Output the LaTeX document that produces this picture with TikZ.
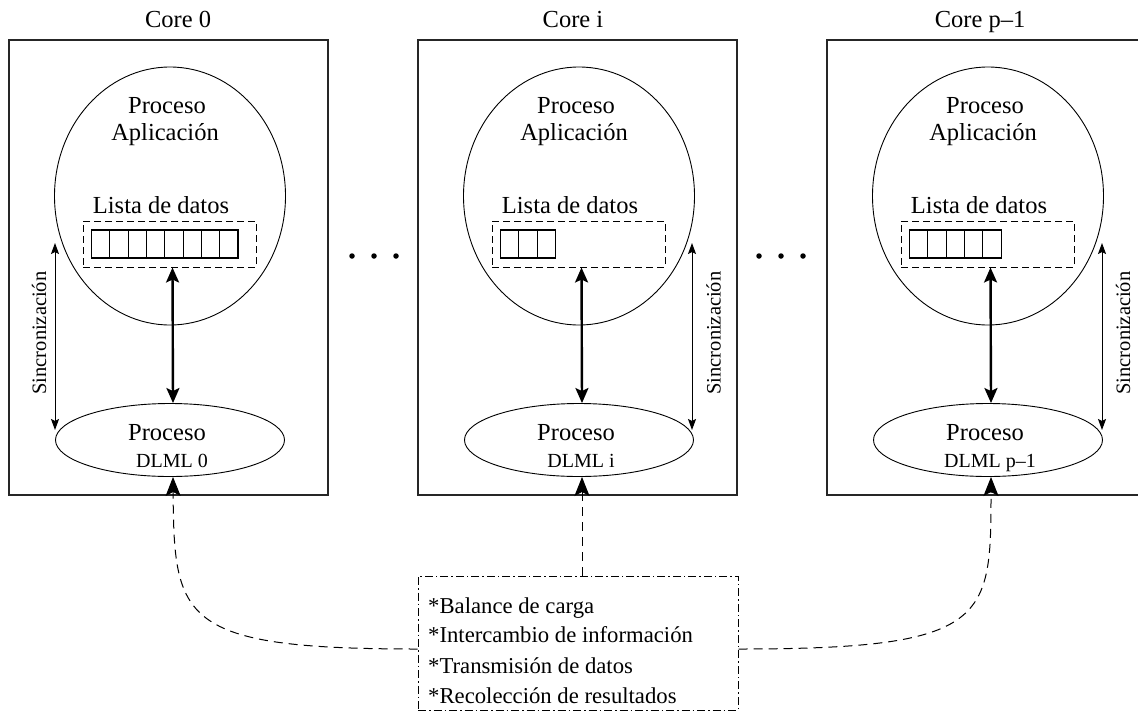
\documentclass[tikz,border=0pt]{standalone}
\usepackage{fontspec}
\setmainfont{Liberation Serif}
\usetikzlibrary{arrows.meta,shapes.geometric}

% font sizes used in the drawing
\newcommand\fmain{\fontsize{24.5}{29}\selectfont}
\newcommand\fdlml{\fontsize{20}{24}\selectfont}
\newcommand\fsync{\fontsize{20.5}{24}\selectfont}
\newcommand\flist{\fontsize{22.7}{27}\selectfont}

\begin{document}
\begin{tikzpicture}[x=1pt,y=-1pt,
  corebox/.style={draw=black!85, rectangle, line width=1.1pt, minimum height=455pt, inner sep=0pt},
  appell/.style={draw, ellipse, line width=0.9pt, minimum width=231pt, minimum height=258pt, inner sep=0pt},
  dlmlell/.style={draw, ellipse, line width=0.9pt, minimum width=229pt, minimum height=73pt, inner sep=0pt},
  listbox/.style={draw, rectangle, line width=1pt, dash pattern=on 7pt off 4pt, minimum width=173pt, minimum height=46pt, inner sep=0pt},
  cell/.style={draw, rectangle, line width=1.1pt, minimum width=18.3pt, minimum height=28pt, inner sep=0pt, anchor=west},
  txt/.style={anchor=base, inner sep=0pt, font=\fmain},
  dltxt/.style={anchor=base, inner sep=0pt, font=\fdlml},
  synclabel/.style={rotate=90, inner sep=0pt, font=\fsync},
  listtxt/.style={anchor=base west, inner sep=0pt, font=\flist},
  boldarrow/.style={line width=2.4pt, {Stealth[length=15pt,width=13pt,inset=3pt]}-{Stealth[length=15pt,width=13pt,inset=3pt]}},
  syncarrow/.style={line width=1pt, {Stealth[length=11pt,width=8pt,inset=2pt]}-{Stealth[length=11pt,width=8pt,inset=2pt]}},
  dasharrow/.style={line width=1pt, dash pattern=on 9pt off 6pt, -{Stealth[length=19pt,width=15pt,inset=4pt]}},
  infobox/.style={draw, rectangle, line width=1pt, dash pattern=on 8pt off 3pt on 1.5pt off 3pt, minimum width=320pt, minimum height=134pt, inner sep=0pt},
  dotmark/.style={circle, fill, minimum size=5.5pt, inner sep=0pt}
]
\useasboundingbox (0,0) rectangle (1138,713);
\clip (0,0) rectangle (1138,713);

% the three cores (the last frame runs past the right border)
\foreach \n/\cx/\bw/\k/\ttl/\tx/\dl/\sx/\lx in {
    0/170/319/8/{Core 0}/178/{DLML 0}/55/39,
    i/579/319/3/{Core i}/573/{DLML i}/692/713.5,
    p/988/360/5/{Core p–1}/980/{DLML p–1}/1102/1123}{
  \node[corebox, minimum width=\bw pt] (box\n) at (\cx-161+\bw/2,267.5) {};
  \node[txt] (title\n) at (\tx,27) {\ttl};
  \node[appell] (app\n) at (\cx,196) {};
  \node[txt] (pa\n) at (\cx-3,113) {Proceso};
  \node[txt] (apl\n) at (\cx-5,140) {Aplicación};
  \node[txt] (lt\n) at (\cx-9,213) {Lista de datos};
  \node[listbox] (list\n) at (\cx-0.5,244) {};
  \foreach \j in {1,...,\k}
    \node[cell] (cell\n-\j) at (\cx-79+\j*18.3-18.3,244) {};
  \node[dlmlell] (dl\n) at (\cx,440) {};
  \node[txt] (pd\n) at (\cx-3,440) {Proceso};
  \node[dltxt] (dn\n) at (\cx+2,467) {\dl};
  \draw[boldarrow] ([xshift=3pt]list\n.south) -- ([xshift=3pt]dl\n.north);
  \coordinate (st\n) at (\sx,243);
  \coordinate (sb\n) at (\sx,430);
  \draw[syncarrow] (st\n) -- (sb\n);
  \node[synclabel] (sl\n) at (\lx,333) {Sincronización};
}

% ellipsis marks between the cores
\foreach \x [count=\m] in {352,374,396,759,781,803}
  \node[dotmark] (dot\m) at (\x,256) {};

% shared services box
\node[infobox] (info) at (578,643) {};
\node[listtxt] (it1) at (428,613) {*Balance de carga};
\node[listtxt] (it2) at (428,642) {*Intercambio de información};
\node[listtxt] (it3) at (428,673) {*Transmisión de datos};
\node[listtxt] (it4) at (428,703) {*Recolección de resultados};

% links from the services box to each DLML process
\coordinate (dliin) at ([xshift=3pt]dli.south);
\draw[dasharrow] (info.north -| dliin) -- (dliin);
\draw[dasharrow] ([yshift=-6pt]info.west) .. controls (180,649) and (174,620) .. ([xshift=3pt]dl0.south);
\draw[dasharrow] ([yshift=-6pt]info.east) .. controls (990,649) and (991,620) .. ([xshift=3pt]dlp.south);
\end{tikzpicture}
\end{document}
